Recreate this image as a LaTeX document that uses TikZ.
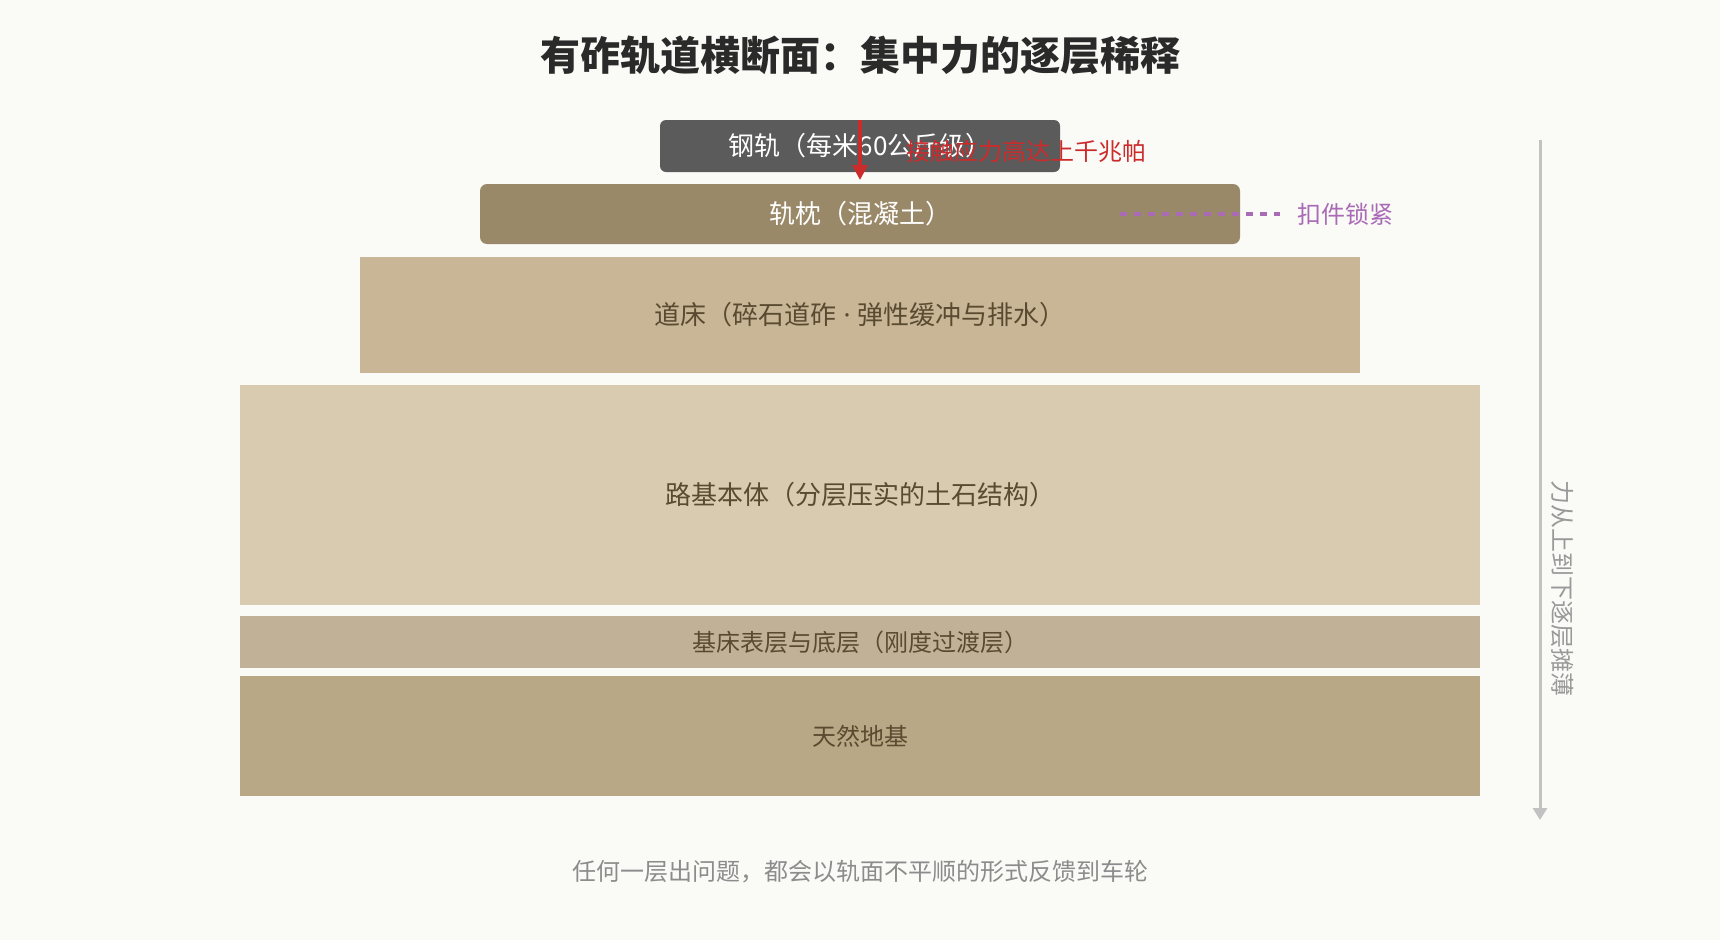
\documentclass[tikz,border=0pt]{standalone}
\usepackage{fontspec}
\setmainfont{Noto Sans CJK SC}
\newfontfamily\latinfont{Noto Sans}
\usetikzlibrary{arrows.meta}
\definecolor{bg}{HTML}{FAFAF7}
\definecolor{railc}{HTML}{5B5B5B}
\definecolor{sleeperc}{HTML}{9A8968}
\definecolor{ballastc}{HTML}{C8B697}
\definecolor{subc}{HTML}{D9CBAF}
\definecolor{basec}{HTML}{C0B197}
\definecolor{natc}{HTML}{B8A886}
\definecolor{layertext}{HTML}{5A4A30}
\definecolor{redc}{HTML}{CC2B2B}
\definecolor{purplec}{HTML}{A96BB5}
\definecolor{grayarrow}{HTML}{C2C2C2}
\definecolor{graytext}{HTML}{999999}
\definecolor{bottomtext}{HTML}{8C8C8C}
\definecolor{titlec}{HTML}{2A2A2A}
\newcommand{\fs}[1]{\fontsize{#1}{#1}\selectfont}
\begin{document}
\begin{tikzpicture}[x=1pt,y=1pt,
  layer/.style={draw=none,inner sep=0pt,outer sep=0pt,text=layertext,font=\fs{24}},
  toplayer/.style={layer,rounded corners=7pt,text=white},
  note/.style={inner sep=0pt,font=\fs{24}}]
\fill[bg] (0,0) rectangle (1720,-940);
\useasboundingbox (0,0) rectangle (1720,-940);
\node[font=\bfseries\fs{40},text=titlec] (title) at (860,-55) {有砟轨道横断面：集中力的逐层稀释};
% layers
\node[layer,fill=natc,minimum width=1240pt,minimum height=120pt] (nat) at (860,-736) {天然地基};
\node[layer,fill=basec,minimum width=1240pt,minimum height=52pt] (base) at (860,-642) {基床表层与底层（刚度过渡层）};
\node[layer,fill=subc,minimum width=1240pt,minimum height=220pt,font=\fs{26}] (sub) at (860,-495) {路基本体（分层压实的土石结构）};
\node[layer,fill=ballastc,minimum width=1000pt,minimum height=116pt,font=\fs{26}] (ballast) at (860,-315) {道床（碎石道砟{\latinfont\ ·\ }弹性缓冲与排水）};
\node[toplayer,fill=sleeperc,minimum width=760pt,minimum height=60pt,font=\fs{26}] (sleeper) at (860,-214) {轨枕（混凝土）};
\node[toplayer,fill=railc,minimum width=400pt,minimum height=52pt,rounded corners=6pt,font=\fs{26}] (rail) at (860,-146) {钢轨（每米60公斤级）};
% force arrow
\coordinate (ftip) at (860,-180);
\draw[redc,line width=3.5pt,-{Triangle[length=15pt,width=15pt]}] (rail.north) -- (ftip);
\node[note,text=redc,anchor=west] (flabel) at (906,-151) {接触应力高达上千兆帕};
% fastening
\coordinate (fs) at (1120,-214);
\coordinate (fe) at (1280,-214);
\draw[purplec,line width=3.5pt,dash pattern=on 7pt off 7pt] (fs) -- (fe);
\node[note,text=purplec,anchor=west] (flock) at (1297,-214) {扣件锁紧};
% side arrow
\coordinate (sa) at (1540,-140);
\coordinate (sb) at (1540,-820);
\draw[grayarrow,line width=3pt,-{Triangle[length=12pt,width=14pt]}] (sa) -- (sb);
\node[note,text=graytext,rotate=-90] (side) at (1563,-588) {力从上到下逐层摊薄};
% bottom note
\node[note,text=bottomtext] (bottom) at (860,-872) {任何一层出问题，都会以轨面不平顺的形式反馈到车轮};
\end{tikzpicture}
\end{document}
